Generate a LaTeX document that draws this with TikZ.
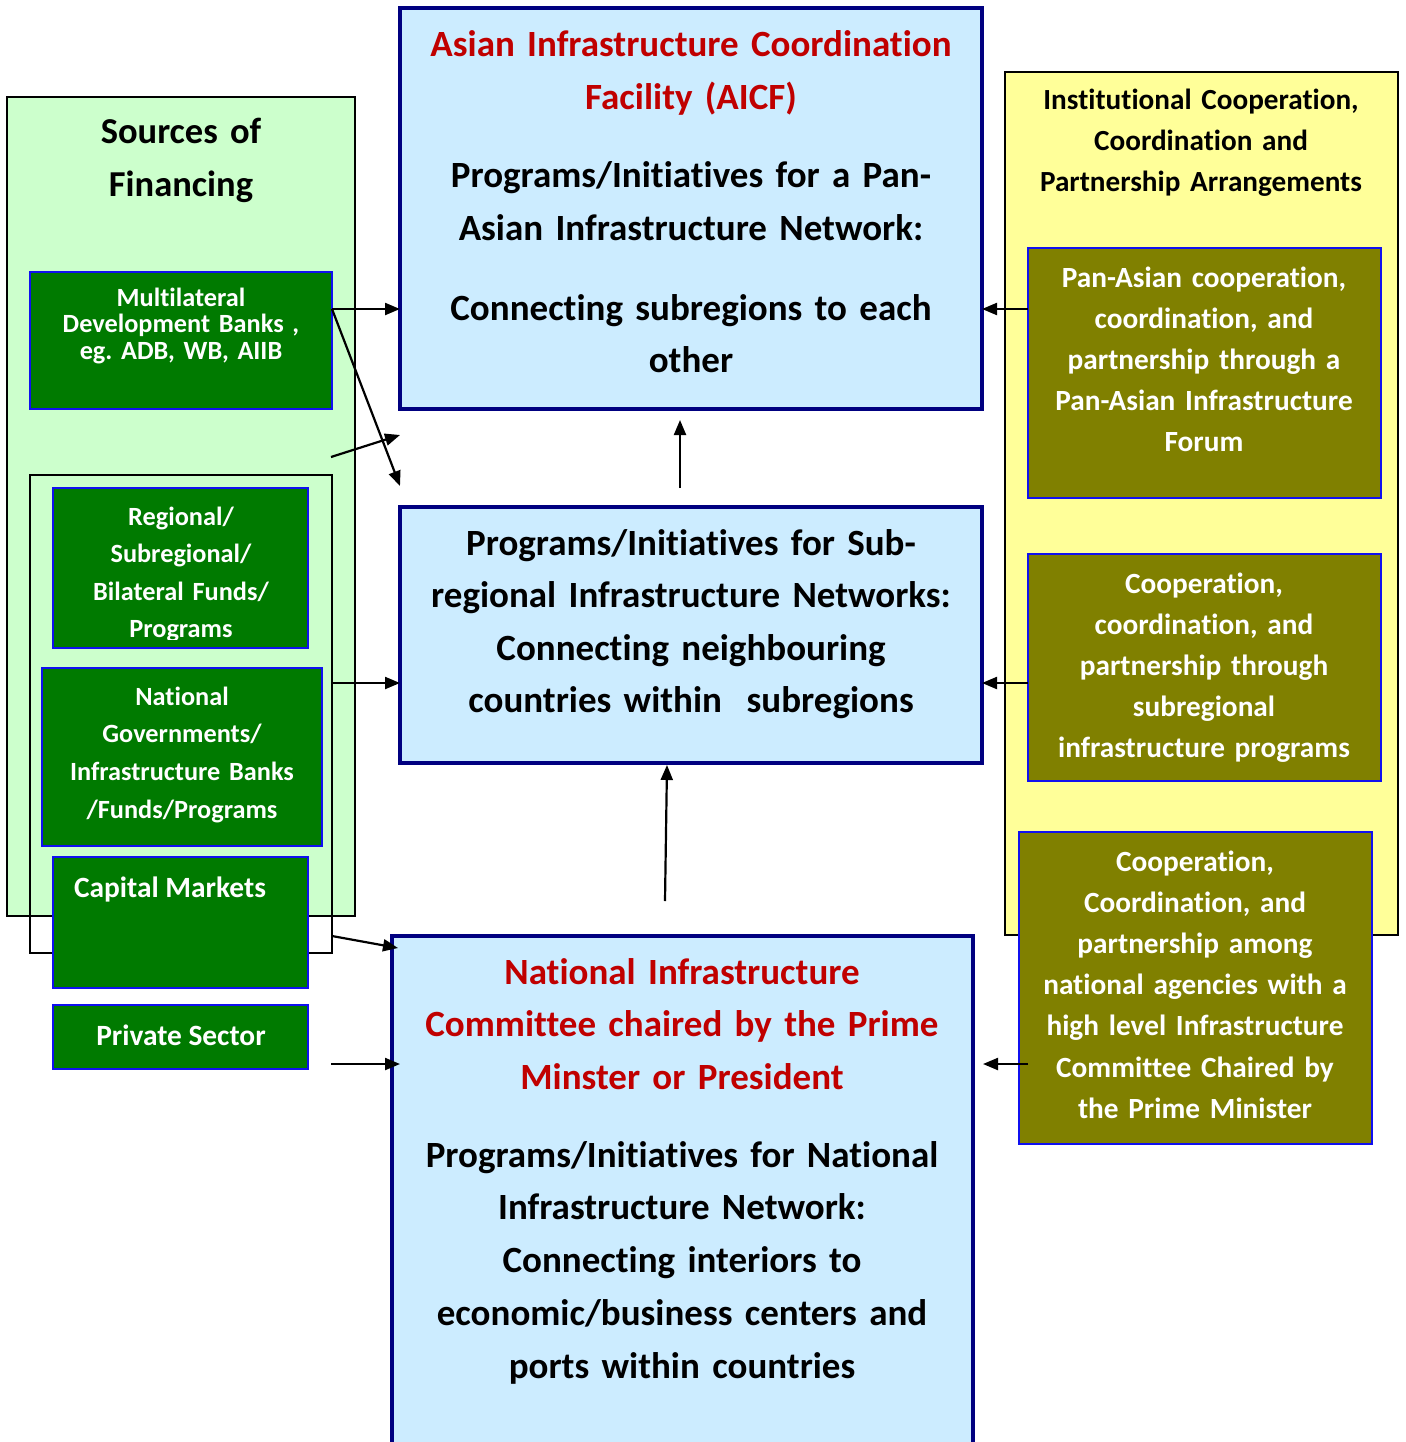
\documentclass[tikz,border=0pt]{standalone}
\usepackage{fontspec}
\setmainfont{Carlito}[Ligatures={NoCommon}]
\frenchspacing
\usetikzlibrary{arrows.meta}
\definecolor{lgreen}{HTML}{CCFFCC}
\definecolor{dgreen}{HTML}{007A00}
\definecolor{bblue}{HTML}{1010F0}
\definecolor{olivebox}{HTML}{808000}
\definecolor{lyellow}{HTML}{FFFF99}
\definecolor{lblue}{HTML}{CCECFF}
\definecolor{navyb}{HTML}{000080}
\definecolor{redt}{HTML}{C00000}
\tikzset{
  boxbase/.style={rectangle, anchor=north west, inner sep=0pt, outer sep=0pt},
  panelbox/.style={boxbase, draw=black, line width=1.5pt},
  greenbox/.style={boxbase, fill=dgreen, draw=bblue, line width=2.5pt},
  olivebx/.style={boxbase, fill=olivebox, draw=bblue, line width=2.5pt},
  mainbox/.style={boxbase, fill=lblue, draw=navyb, line width=4.5pt},
  txt/.style={anchor=base, align=center, inner sep=0pt, font=\bfseries},
  arr/.style={line width=2.2pt, -{Triangle[length=15pt,width=12pt]}},
}
\begin{document}
\begin{tikzpicture}[x=1pt,y=-1pt]
\useasboundingbox (0,0) rectangle (1405,1442);
% left panel
\node[panelbox, fill=lgreen, minimum width=348pt, minimum height=819pt] (fin) at (7,97) {};
\node[txt, text width=340pt, font=\bfseries\fontsize{36.5}{53}\selectfont] (fintitle) at (181,144) {Sources of\\Financing};
\node[greenbox, minimum width=302pt, minimum height=137pt] (mdb) at (30,272) {};
\node[txt, text=white, text width=300pt, font=\bfseries\fontsize{26.3}{26.5}\selectfont] (mdbt) at (181,306) {Multilateral\\Development Banks ,\\eg. ADB, WB, AIIB};
\node[boxbase, draw=black, line width=2pt, minimum width=302pt, minimum height=478pt] (frame) at (30,475) {};
\node[greenbox, minimum width=255pt, minimum height=160pt] (reg) at (53,488) {};
\begin{scope}
\clip (56,491) rectangle (305,639);
\node[txt, text=white, text width=250pt, font=\bfseries\fontsize{26.3}{37.5}\selectfont] (regt) at (181,525) {Regional/\\Subregional/\\Bilateral Funds/\\Programs};
\end{scope}
\node[greenbox, minimum width=280pt, minimum height=178pt] (nat) at (42,668) {};
\node[txt, text=white, text width=276pt, font=\bfseries\fontsize{26.3}{37.7}\selectfont] (natt) at (182,705) {National\\Governments/\\Infrastructure Banks\\/Funds/Programs};
\node[greenbox, minimum width=255pt, minimum height=131pt] (cap) at (53,857) {};
\node[txt, text=white, font=\bfseries\fontsize{29.4}{30}\selectfont] (capt) at (170,897) {Capital Markets};
\node[greenbox, minimum width=255pt, minimum height=64pt] (priv) at (53,1005) {};
\node[txt, text=white, font=\bfseries\fontsize{29.4}{30}\selectfont] (privt) at (181,1045) {Private Sector};
% centre boxes
\node[mainbox, minimum width=582pt, minimum height=401pt] (aicf) at (400,8) {};
\node[txt, text=redt, text width=575pt, font=\bfseries\fontsize{37}{52.5}\selectfont] (aicft1) at (691,57) {Asian Infrastructure Coordination\\Facility (AICF)};
\node[txt, text width=575pt, font=\bfseries\fontsize{37}{52.5}\selectfont] (aicft2) at (691,188) {Programs/Initiatives for a Pan-\\Asian Infrastructure Network:};
\node[txt, text width=575pt, font=\bfseries\fontsize{37}{52.5}\selectfont] (aicft3) at (691,320) {Connecting subregions to each\\other};
\node[mainbox, minimum width=582pt, minimum height=256pt] (sub) at (400,507) {};
\node[txt, text width=575pt, font=\bfseries\fontsize{37}{52.6}\selectfont] (subt) at (691,555) {Programs/Initiatives for Sub-\\regional Infrastructure Networks:\\Connecting neighbouring\\countries within~ subregions};
\node[mainbox, minimum width=581pt, minimum height=530pt] (nic) at (392,936) {};
\node[txt, text=redt, text width=575pt, font=\bfseries\fontsize{37}{52.6}\selectfont] (nict1) at (682,984) {National Infrastructure\\Committee chaired by the Prime\\Minster or President};
\node[txt, text width=575pt, font=\bfseries\fontsize{37}{52.75}\selectfont] (nict2) at (682,1167) {Programs/Initiatives for National\\Infrastructure Network:\\Connecting interiors to\\economic/business centers and\\ports within countries};
% right panel
\node[panelbox, fill=lyellow, minimum width=393pt, minimum height=863pt] (inst) at (1005,72) {};
\node[txt, text width=390pt, font=\bfseries\fontsize{29.2}{41}\selectfont] (instt) at (1201,110) {Institutional Cooperation,\\Coordination and\\Partnership Arrangements};
\node[olivebx, minimum width=353pt, minimum height=250pt] (ol1) at (1028,248) {};
\node[txt, text=white, text width=350pt, font=\bfseries\fontsize{29.3}{41.2}\selectfont] (ol1t) at (1204,287) {Pan-Asian cooperation,\\coordination, and\\partnership through a\\Pan-Asian Infrastructure\\Forum};
\node[olivebx, minimum width=353pt, minimum height=227pt] (ol2) at (1028,554) {};
\node[txt, text=white, text width=350pt, font=\bfseries\fontsize{29.3}{41.2}\selectfont] (ol2t) at (1204,593) {Cooperation,\\coordination, and\\partnership through\\subregional\\infrastructure programs};
\node[olivebx, minimum width=353pt, minimum height=312pt] (ol3) at (1019,832) {};
\node[txt, text=white, text width=350pt, font=\bfseries\fontsize{29.3}{41.2}\selectfont] (ol3t) at (1195,871) {Cooperation,\\Coordination, and\\partnership among\\national agencies with a\\high level Infrastructure\\Committee Chaired by\\the Prime Minister};
% connector anchor points
\coordinate (m1) at (332,309);
\coordinate (d1) at (400,486);
\coordinate (s1) at (331,457);
\coordinate (s2) at (400,435);
\coordinate (f1) at (332,683);
\coordinate (c1) at (332,936);
\coordinate (c2) at (398,948);
\coordinate (p1) at (331,1064);
\coordinate (u1) at (680,488);
\coordinate (u2) at (680,420);
\coordinate (v1) at (665,901);
\coordinate (v2) at (667,765);
\coordinate (r1) at (1028,309);
\coordinate (r2) at (1028,683);
\coordinate (r3) at (1028,1064);
% arrows
\draw[arr] (m1) -- (m1 -| aicf.west);
\draw[arr] (m1) -- (d1);
\draw[arr] (s1) -- (s2);
\draw[arr] (f1) -- (f1 -| sub.west);
\draw[arr] (c1) -- (c2);
\draw[arr] (p1) -- ([xshift=8pt]p1 -| nic.west);
\draw[arr] (u1) -- (u2);
\draw[arr] (v1) -- (v2);
\draw[arr] (r1) -- (r1 -| aicf.east);
\draw[arr] (r2) -- (r2 -| sub.east);
\draw[arr] (r3) -- ([xshift=10pt]r3 -| nic.east);
\end{tikzpicture}
\end{document}
